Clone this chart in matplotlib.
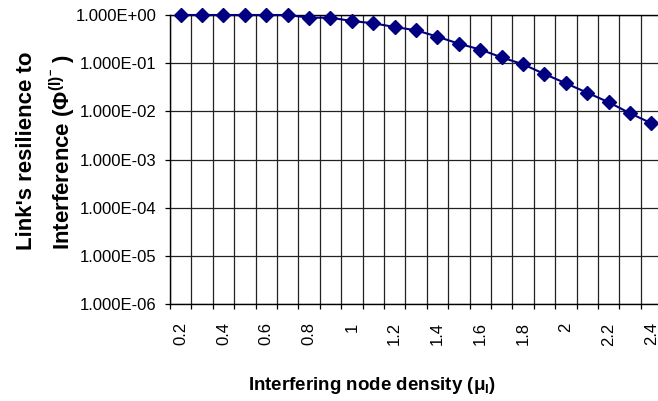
import matplotlib
matplotlib.use("Agg")
import matplotlib.pyplot as plt
from matplotlib.ticker import FixedLocator, FuncFormatter, NullFormatter
import numpy as np

plt.rcParams['font.family'] = ['Liberation Sans', 'DejaVu Sans']
plt.rcParams['mathtext.fontset'] = 'custom'
plt.rcParams['mathtext.rm'] = 'Liberation Sans'
plt.rcParams['mathtext.bf'] = 'Liberation Sans:bold'
plt.rcParams['mathtext.it'] = 'Liberation Sans:bold'

# ---- data ----
categories = ['0.2', '0.3', '0.4', '0.5', '0.6', '0.7', '0.8', '0.9', '1', '1.1', '1.2',
              '1.3', '1.4', '1.5', '1.6', '1.7', '1.8', '1.9', '2', '2.1', '2.2', '2.3', '2.4']
resilience = [1.0, 1.0, 1.0, 1.0, 1.0, 1.0, 0.879, 0.879, 0.751, 0.673, 0.564,
              0.482, 0.355, 0.254, 0.192, 0.132, 0.0948, 0.0597, 0.0383, 0.0244,
              0.0155, 0.00914, 0.00566]
y_ticks = [1e0, 1e-1, 1e-2, 1e-3, 1e-4, 1e-5, 1e-6]
x_title = r'Interfering node density (μ$_{\mathbf{I}}$)'
y_title_1 = "Link's resilience to"
y_title_2 = r'Interference ($\mathbf{\Phi}^{\mathbf{(I)}^{\mathbf{-}}}$ )'

W, H = 658, 401
fig = plt.figure(figsize=(W / 100, H / 100), dpi=100)
ax = fig.add_axes([170 / W, 1 - 304.3 / H, 492.2 / W, (304.3 - 15) / H])

n = len(categories)
xs = np.arange(n)
ax.plot(xs, resilience, color='#000080', lw=1.5, marker='D', markersize=7.5,
        markerfacecolor='#000080', markeredgecolor='#000080', zorder=5, clip_on=False)

ax.set_yscale('log')
ax.set_ylim(1e-6, 1e0)
ax.set_xlim(-0.5, n - 0.5)

ax.yaxis.set_major_locator(FixedLocator(y_ticks))
ax.yaxis.set_major_formatter(FuncFormatter(lambda v, p: f"{v:.3E}"))
ax.yaxis.set_minor_locator(FixedLocator([]))
ax.yaxis.set_minor_formatter(NullFormatter())

# labels at category centres (every other), tick marks at boundaries
ax.xaxis.set_major_locator(FixedLocator(xs[::2]))
ax.set_xticklabels(categories[::2], rotation=90, va='top', ha='center')
ax.xaxis.set_minor_locator(FixedLocator(np.arange(n + 1) - 0.5))

ax.tick_params(axis='x', which='major', length=0, pad=13, labelsize=12, colors='black')
ax.tick_params(axis='x', which='minor', length=3.8, width=0.9, direction='out', color='black')
ax.tick_params(axis='y', which='major', length=3.8, width=0.9, pad=6, labelsize=12, direction='out')

ax.grid(True, axis='x', which='minor', color='#222222', lw=0.9)
ax.grid(True, axis='y', which='major', color='#222222', lw=0.9)
ax.grid(False, axis='x', which='major')

for s in ['left', 'bottom', 'top']:
    ax.spines[s].set_color('black')
    ax.spines[s].set_linewidth(1.0)
ax.spines['right'].set_visible(False)

fig.text(372 / W, 1 - 385 / H, x_title, ha='center', va='center',
         fontsize=13.5, fontweight='bold')
fig.text(32 / W, 1 - 250 / H, y_title_1, rotation=90, rotation_mode='anchor',
         ha='left', va='baseline', fontsize=16, fontweight='bold')
fig.text(70 / W, 1 - 250 / H, y_title_2, rotation=90, rotation_mode='anchor',
         ha='left', va='baseline', fontsize=16, fontweight='bold')

fig.savefig('out.png', dpi=100)
